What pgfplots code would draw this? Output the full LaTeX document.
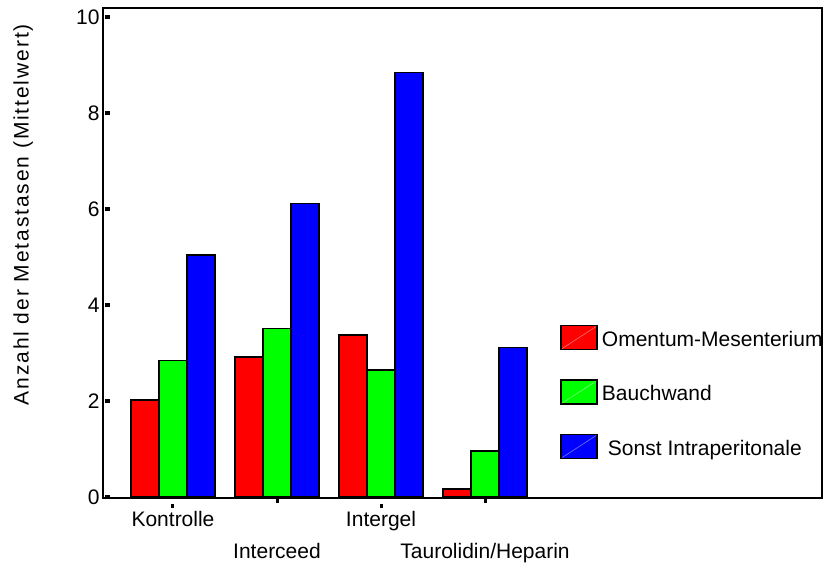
\documentclass[border=0pt]{standalone}
\usepackage{fontspec}
\setmainfont{Liberation Sans}
\newfontfamily\ylabfont[LetterSpace=9]{Liberation Sans}
\usepackage{pgfplots}
\pgfplotsset{compat=1.18}
\begin{document}
\begin{tikzpicture}
\begin{axis}[
    at={(0pt,0pt)}, anchor=south west,
    scale only axis, width=719pt, height=490pt,
    ybar=0pt, bar width=28pt,
    xmin=-0.673, xmax=6.24,
    ymin=-0.02, ymax=10.19,
    axis line style={line width=1.6pt},
    xtick pos=bottom, ytick pos=left,
    /pgf/number format/assume math mode=true,
    tick label style={font=\fontsize{21}{21}\selectfont},
    major tick length=5pt,
    ytick={0,2,...,10},
    ytick style={line width=4pt, black, xshift=2pt},
    xtick={0,2}, xticklabels={Kontrolle,Intergel},
    xtick style={line width=3pt, black, yshift=-5.5pt},
    xticklabel style={yshift=-5pt},
    extra x ticks={1,3},
    extra x tick labels={Interceed,Taurolidin/Heparin},
    extra x tick style={xtick style={yshift=5.5pt},
                        xticklabel style={yshift=-32pt}},
    ylabel={Anzahl der Metastasen (Mittelwert)},
    ylabel style={at={(axis description cs:-0.111,0.578)}, anchor=center,
                  font=\ylabfont\fontsize{21}{21}\selectfont},
    legend image code/.code={%
      \draw[#1] (0pt,-10pt) rectangle (36pt,14pt);
      \pgfsetstrokecolor{white}\pgfsetstrokeopacity{0.45}\pgfsetlinewidth{0.6pt}%
      \pgfpathmoveto{\pgfpoint{1pt}{-9pt}}\pgfpathlineto{\pgfpoint{35pt}{13pt}}%
      \pgfusepath{stroke}},
    legend style={draw=none, fill=none, at={(axis description cs:0.636,0.354)},
                  anchor=north west, inner sep=0pt, row sep=29pt, column sep=3pt,
                  nodes={inner sep=1pt, font=\fontsize{21}{21}\selectfont},
                  cells={anchor=west}},
]
\addplot[fill=red, draw=black, line width=1.5pt]
  coordinates {(0,2.02) (1,2.92) (2,3.375) (3,0.17)};
\addplot[fill=green, draw=black, line width=1.5pt]
  coordinates {(0,2.84) (1,3.51) (2,2.65) (3,0.96)};
\addplot[fill=blue, draw=black, line width=1.5pt]
  coordinates {(0,5.04) (1,6.12) (2,8.85) (3,3.12)};
\legend{Omentum-Mesenterium, Bauchwand, \hspace*{6pt}Sonst Intraperitonale}
\end{axis}
\pgfresetboundingbox
\path (-103pt,-67pt) rectangle (722pt,498pt);
\end{tikzpicture}
\end{document}
